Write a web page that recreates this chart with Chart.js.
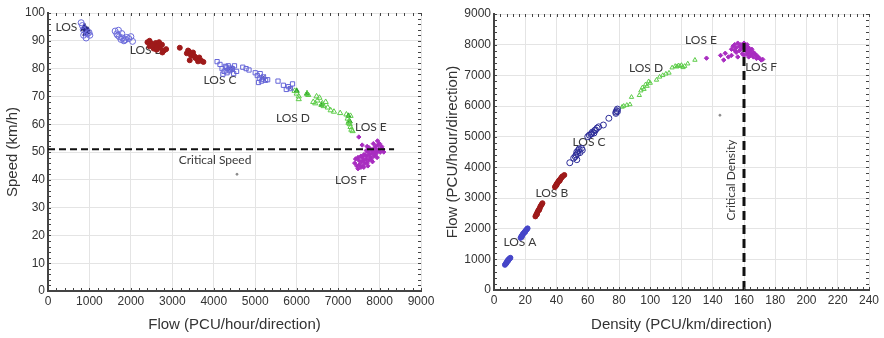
<!DOCTYPE html>
<html>
<head>
<meta charset="utf-8">
<script src="https://cdn.jsdelivr.net/npm/chart.js@4.4.1/dist/chart.umd.min.js"></script>
<style>
  body { margin: 0; background: #fff; }
  #wrap { position: relative; width: 884px; height: 338px; }
  #left { position: absolute; left: 0; top: 0; }
  #right { position: absolute; left: 440px; top: 0; }
</style>
</head>
<body>
<div id="wrap">
  <canvas id="left" width="440" height="338"></canvas>
  <canvas id="right" width="444" height="338"></canvas>
</div>
<script>
// ---- speed-flow (left) ----
var sfAdarkFlow = [880, 900, 920, 940, 960, 900, 870]
var sfAdarkSpeed = [95, 94, 93.5, 93, 94, 92.5, 94.5]
var sfAopenFlow = [800, 830, 860, 950, 990, 1010, 850, 920, 1620, 1660, 1700, 1720, 1760, 1800, 1830, 1870, 1900, 1950, 2000, 2040, 1680, 1780, 1850]
var sfAopenSpeed = [96.5, 95.5, 92, 92.5, 93, 92, 94, 91, 93.5, 92.5, 93.8, 91.5, 90.5, 91, 90, 90.5, 91.2, 90.8, 91.5, 89.8, 92, 92.6, 90.2]
var sfBFlow = [2400, 2450, 2500, 2550, 2600, 2650, 2700, 2750, 2800, 2850, 2450, 2550, 2620, 2680, 2760, 2520, 3180, 3350, 3400, 3450, 3500, 3550, 3600, 3650, 3700, 3750, 3420, 3480, 3560, 3620, 3380, 3520]
var sfBSpeed = [89.5, 90, 89, 88.5, 89.2, 88, 87.5, 88.6, 86.5, 87, 88, 87.2, 86.8, 89.5, 85.8, 88.3, 87.5, 85.5, 86.2, 84.8, 85.8, 84.2, 83.5, 84, 82.8, 82.4, 83, 85, 83.8, 82.6, 86.5, 84.6]
var sfCFlow = [4080, 4150, 4200, 4250, 4300, 4350, 4400, 4450, 4500, 4550, 4220, 4320, 4420, 4280, 4380, 4480, 4700, 4780, 4850, 5000, 5050, 5100, 5150, 5200, 5250, 5300, 5080, 5180, 5120, 5550, 5680, 5750, 5800, 5850, 5900]
var sfCSpeed = [82.5, 81.5, 80, 79, 80.5, 81, 79.5, 80, 81, 79, 78, 78.5, 80.2, 80.8, 79.2, 78.2, 80.5, 80, 79.5, 78.5, 77.5, 76.5, 75.5, 77, 75.8, 76, 75, 76.2, 78.2, 75.5, 74, 72.5, 73.5, 72.8, 74.5]
var sfCdarkFlow = [4400, 4450, 5200, 5230, 5850]
var sfCdarkSpeed = [80, 79.5, 77, 76, 73]
var sfDFlow = [5950, 6000, 6050, 6250, 6280, 6400, 6450, 6500, 6550, 6600, 6650, 6700, 6750, 6820, 6900, 7050, 7200, 7230, 7260, 7280, 7300, 7320, 7350, 7250, 7300, 6050, 6480, 6620]
var sfDSpeed = [72, 71, 70, 71, 70.5, 68, 67.5, 68.5, 69.5, 67, 66.5, 68, 66, 65, 64.5, 64, 63.5, 62, 61, 60, 59, 58, 57.5, 60.5, 63, 69, 70, 67.5]
var sfDdarkFlow = [6000, 6250, 6600, 7250, 7280]
var sfDdarkSpeed = [72, 71, 67, 63, 61]
var sfFFlow = [7400, 7450, 7480, 7500, 7520, 7550, 7560, 7580, 7600, 7620, 7640, 7650, 7670, 7700, 7700, 7720, 7740, 7760, 7780, 7800, 7800, 7820, 7850, 7860, 7880, 7900, 7900, 7920, 7950, 7960, 7980, 8000, 8020, 8050, 8080, 7750, 7680, 7620, 7550, 7480, 7850, 7950, 7700, 7500, 7580, 7420, 7620, 7720, 7830, 7940, 8100]
var sfFSpeed = [46, 45, 44, 47, 45.5, 44.5, 46.5, 48, 45, 47, 46, 49, 47.5, 48.5, 46, 50, 47, 49, 48, 50.5, 47.5, 49.5, 51, 48.5, 50, 52, 49, 51, 50, 52.5, 51, 53, 50, 52, 51, 51.5, 50.5, 49, 48.5, 48, 53, 54, 52, 55.4, 52.5, 47.5, 44.5, 45, 46.5, 48, 50]
var sfOutFlow = [4560]
var sfOutSpeed = [42]
var critSpeedFlow = [0, 8350]
var critSpeed = [51, 51]

// ---- flow-density (right) ----
var fdADens = [7, 7.5, 8, 8.5, 9, 9.5, 10, 10.5, 8, 9, 17, 17.5, 18, 18.5, 19, 19.5, 20, 20.5, 21, 21.5, 18, 20]
var fdAFlow = [820, 860, 900, 940, 980, 1000, 1030, 1050, 880, 950, 1700, 1750, 1780, 1830, 1850, 1880, 1920, 1950, 1980, 2010, 1760, 1900]
var fdBDens = [26.5, 27, 27.5, 28, 28.5, 29, 29.5, 30, 30.5, 31, 27.5, 29, 39, 39.5, 40, 40.5, 41, 41.5, 42, 42.5, 43, 43.5, 44, 45, 40, 42]
var fdBFlow = [2400, 2450, 2500, 2560, 2600, 2640, 2700, 2750, 2790, 2830, 2470, 2620, 3360, 3400, 3450, 3480, 3520, 3560, 3580, 3620, 3650, 3690, 3710, 3750, 3420, 3560]
var fdCDens = [48.5, 51, 52, 52.5, 53, 53.5, 54, 54.5, 55, 56, 56.5, 53, 60, 61, 62, 62.5, 63, 64, 64.5, 65, 66, 67, 70, 73.5, 78, 78.5, 79, 78, 79]
var fdCFlow = [4150, 4300, 4350, 4400, 4500, 4450, 4550, 4600, 4480, 4620, 4560, 4250, 5000, 5050, 5080, 5100, 5150, 5120, 5200, 5220, 5280, 5320, 5380, 5600, 5800, 5850, 5900, 5760, 5820]
var fdDDens = [82, 83, 85, 87, 88, 93, 94, 95, 96, 97, 98, 99, 100, 104, 106, 108, 110, 112, 114, 116, 117, 118, 119, 120, 121, 122, 124, 128.6]
var fdDFlow = [5970, 6000, 6030, 6050, 6290, 6350, 6500, 6600, 6550, 6700, 6650, 6800, 6750, 6850, 6950, 7000, 7050, 7080, 7250, 7300, 7280, 7320, 7300, 7330, 7260, 7300, 7380, 7500]
var fdFDens = [136, 145, 147, 148, 150, 152, 153, 154, 155, 155, 156, 157, 158, 158, 159, 159, 160, 160, 161, 161, 162, 162, 163, 163, 164, 164, 165, 165, 166, 166, 167, 168, 168, 169, 170, 171, 172, 157, 154, 152, 160, 162, 156, 163]
var fdFFlow = [7560, 7650, 7500, 7720, 7600, 7850, 7950, 8000, 7900, 7750, 8050, 7950, 7850, 8000, 7700, 7950, 7900, 8050, 7800, 7950, 7850, 7700, 7900, 7750, 7800, 7650, 7850, 7700, 7750, 7600, 7700, 7650, 7550, 7600, 7550, 7500, 7520, 7800, 7820, 7650, 7650, 8000, 7600, 7600]
var fdOutDens = [144.6]
var fdOutFlow = [5700]
var critDens = [160, 160]
var critDensFlow = [0, 8080]

function pts(xs, ys) {
  return xs.map(function (x, i) { return { x: x, y: ys[i] } })
}

function pt(xs, ys, color, style, filled, r) {
  return {
    data: pts(xs, ys),
    pointStyle: style,
    pointRadius: r || 3,
    borderWidth: 1,
    borderColor: color,
    backgroundColor: filled ? color : 'rgba(0,0,0,0)'
  }
}

function dash(xs, ys, w, d) {
  return {
    type: 'line',
    data: pts(xs, ys),
    borderColor: '#111',
    borderWidth: w,
    borderDash: d,
    pointRadius: 0,
    fill: false
  }
}

// text labels drawn under the points
var labelPlugin = {
  id: 'losLabels',
  beforeDatasetsDraw: function (chart) {
    var items = chart.options.plugins.losLabels.items
    var ctx = chart.ctx
    ctx.save()
    ctx.fillStyle = '#3a3a3a'
    ctx.font = '12px Lato'
    ctx.textAlign = 'center'
    ctx.textBaseline = 'middle'
    items.forEach(function (it) {
      var px = chart.scales.x.getPixelForValue(it.x)
      var py = chart.scales.y.getPixelForValue(it.y)
      if (it.rot) {
        ctx.save()
        ctx.translate(px, py)
        ctx.rotate(-Math.PI / 2)
        ctx.fillText(it.text, 0, 0)
        ctx.restore()
      } else {
        ctx.fillText(it.text, px, py)
      }
    })
    ctx.restore()
  }
}

var minorPlugin = {
  id: 'minorTicks',
  afterDatasetsDraw: function (chart) {
    var o = chart.options.plugins.minorTicks
    var a = chart.chartArea
    var x = chart.scales.x, y = chart.scales.y
    var ctx = chart.ctx
    ctx.save()
    ctx.strokeStyle = '#444'
    ctx.lineWidth = 1
    ctx.beginPath()
    for (var v = x.min; v <= x.max + 1e-9; v += o.x) {
      var px = Math.round(x.getPixelForValue(v)) + 0.5
      ctx.moveTo(px, a.bottom); ctx.lineTo(px, a.bottom - 3)
      ctx.moveTo(px, a.top); ctx.lineTo(px, a.top + 3)
    }
    for (var w = y.min; w <= y.max + 1e-9; w += o.y) {
      var py = Math.round(y.getPixelForValue(w)) + 0.5
      ctx.moveTo(a.left, py); ctx.lineTo(a.left + 3, py)
      ctx.moveTo(a.right, py); ctx.lineTo(a.right - 3, py)
    }
    ctx.stroke()
    ctx.restore()
  }
}

function axis(min, max, step, title, fixSize, isY) {
  return {
    type: 'linear',
    min: min,
    max: max,
    afterFit: function (s) { if (isY) s.width = fixSize; else s.height = fixSize },
    ticks: {
      stepSize: step, color: '#333', padding: 3,
      font: { family: 'Liberation Sans', size: 12 },
      callback: function (v) { return String(v) }
    },
    grid: { color: '#e4e4e4', drawTicks: false },
    border: { color: '#444', width: 2 },
    title: { display: true, text: title, color: '#333', padding: { top: 4, bottom: 4 }, font: { family: 'Liberation Sans', size: 15 } }
  }
}

function baseOptions(xAxis, yAxis, pad, labels, minor) {
  return {
    responsive: false,
    animation: false,
    layout: { padding: pad },
    scales: { x: xAxis, y: yAxis },
    plugins: {
      legend: { display: false },
      tooltip: { enabled: false },
      losLabels: { items: labels },
      minorTicks: minor
    }
  }
}

new Chart(document.getElementById('left'), {
  type: 'scatter',
  data: {
    datasets: [
      dash(critSpeedFlow, critSpeed, 2, [7, 4]),
      pt(sfAopenFlow, sfAopenSpeed, '#6b6bdb', 'circle', false, 3),
      pt(sfAdarkFlow, sfAdarkSpeed, '#28288a', 'triangle', true, 3),
      pt(sfBFlow, sfBSpeed, '#9e1a1a', 'circle', true, 2.5),
      pt(sfCFlow, sfCSpeed, '#6565d8', 'rect', false, 3),
      pt(sfCdarkFlow, sfCdarkSpeed, '#2a2a8c', 'crossRot', true, 3),
      pt(sfDFlow, sfDSpeed, '#5ccc48', 'triangle', false, 3),
      pt(sfDdarkFlow, sfDdarkSpeed, '#2e9e2e', 'triangle', true, 3),
      pt(sfFFlow, sfFSpeed, '#a82cc0', 'rectRot', true, 2.2),
      pt(sfOutFlow, sfOutSpeed, '#888', 'circle', true, 1)
    ]
  },
  options: baseOptions(
    axis(0, 9000, 1000, 'Flow (PCU/hour/direction)', 47, false),
    axis(0, 100, 10, 'Speed (km/h)', 48, true),
    { left: 0, right: 19, top: 13, bottom: 0 },
    [
      { text: 'LOS A', x: 580, y: 95 },
      { text: 'LOS B', x: 2365, y: 86.7 },
      { text: 'LOS C', x: 4150, y: 75.9 },
      { text: 'LOS D', x: 5910, y: 62.2 },
      { text: 'LOS E', x: 7790, y: 59 },
      { text: 'Critical Speed', x: 4030, y: 47.1 },
      { text: 'LOS F', x: 7310, y: 40 }
    ],
    { x: 200, y: 2 }
  ),
  plugins: [labelPlugin, minorPlugin]
})

new Chart(document.getElementById('right'), {
  type: 'scatter',
  data: {
    datasets: [
      dash(critDens, critDensFlow, 3, [9, 5]),
      pt(fdADens, fdAFlow, '#4646c8', 'circle', true, 2.5),
      pt(fdBDens, fdBFlow, '#9e1a1a', 'circle', true, 2.5),
      pt(fdCDens, fdCFlow, '#2c2c98', 'circle', false, 3),
      pt(fdDDens, fdDFlow, '#5ccc48', 'triangle', false, 2.5),
      pt(fdFDens, fdFFlow, '#a82cc0', 'rectRot', true, 2.2),
      pt(fdOutDens, fdOutFlow, '#888', 'circle', true, 1)
    ]
  },
  options: baseOptions(
    axis(0, 240, 20, 'Density (PCU/km/direction)', 48, false),
    axis(0, 9000, 1000, 'Flow (PCU/hour/direction)', 54, true),
    { left: 0, right: 15, top: 14, bottom: 0 },
    [
      { text: 'LOS A', x: 16.6, y: 1565 },
      { text: 'LOS B', x: 37, y: 3160 },
      { text: 'LOS C', x: 60.8, y: 4825 },
      { text: 'LOS D', x: 97.3, y: 7237 },
      { text: 'LOS E', x: 132.5, y: 8150 },
      { text: 'LOS F', x: 171, y: 7270 },
      { text: 'Critical Density', x: 151.7, y: 3586, rot: true }
    ],
    { x: 4, y: 200 }
  ),
  plugins: [labelPlugin, minorPlugin]
})
</script>
</body>
</html>
